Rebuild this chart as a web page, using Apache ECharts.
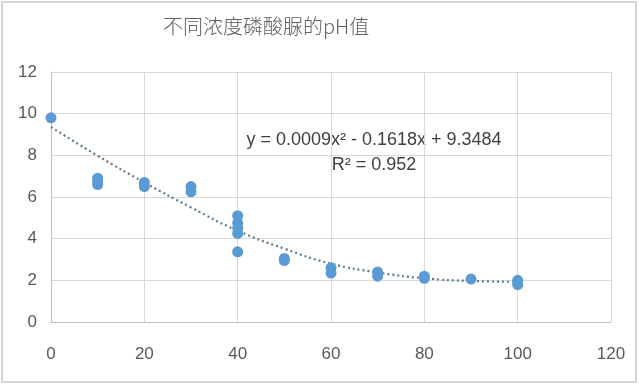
<!DOCTYPE html>
<html>
<head>
<meta charset="utf-8">
<script src="https://cdn.jsdelivr.net/npm/echarts@6/dist/echarts.min.js"></script>
<style>html,body{margin:0;padding:0;background:#fff}#c{width:640px;height:385px}</style>
</head>
<body>
<div id="c"></div>
<script>
var titleText = '不同浓度磷酸脲的pH值';
var concentration = [0, 10, 10, 10, 20, 20, 30, 30, 40, 40, 40, 40, 40, 50, 50, 60, 60, 70, 70, 80, 80, 90, 100, 100];
var phValues      = [9.8, 6.9, 6.75, 6.6, 6.7, 6.5, 6.5, 6.25, 5.1, 4.75, 4.5, 4.25, 3.37, 2.95, 3.05, 2.35, 2.6, 2.2, 2.4, 2.1, 2.2, 2.06, 1.8, 2.0];
var trendX = [0, 10, 20, 30, 40, 50, 60, 70, 80, 90, 100];
var trendY = [9.36, 7.98, 6.7, 5.5, 4.38, 3.52, 2.8, 2.38, 2.1, 1.97, 1.93];
var equationText = 'y = 0.0009x² - 0.1618x + 9.3484';
var r2Text = 'R² = 0.952';

var chart = echarts.init(document.getElementById('c'));
var pts = concentration.map(function (x, i) { return [x, phValues[i]]; });
var trend = trendX.map(function (x, i) { return [x, trendY[i]]; });
var lab = { color: '#595959', fontSize: 17, fontFamily: 'Liberation Sans' };
chart.setOption({
  animation: false,
  title: {
    text: titleText, left: 158, top: 11,
    textStyle: { color: '#606060', fontSize: 20, fontWeight: 300, fontFamily: 'Noto Sans CJK SC' }
  },
  grid: { left: 51, top: 72, width: 560, height: 250 },
  xAxis: {
    type: 'value', min: 0, max: 120, interval: 20,
    axisLine: { lineStyle: { color: '#bfbfbf', width: 1 } },
    axisTick: { show: false },
    splitLine: { show: true, lineStyle: { color: '#d9d9d9' } },
    axisLabel: Object.assign({ margin: 24 }, lab)
  },
  yAxis: {
    type: 'value', min: 0, max: 12, interval: 2,
    axisLine: { show: true, lineStyle: { color: '#bfbfbf', width: 1 } },
    axisTick: { show: false },
    splitLine: { show: true, lineStyle: { color: '#d9d9d9' } },
    axisLabel: Object.assign({ margin: 14 }, lab)
  },
  series: [
    {
      type: 'line', data: trend, smooth: true, symbol: 'none', z: 1,
      lineStyle: { color: '#5f7a8c', width: 2.2, type: [2, 3] }
    },
    {
      type: 'scatter', data: pts, symbolSize: 11, z: 3,
      itemStyle: { color: '#5b9bd5', opacity: 1 }
    }
  ],
  graphic: [
    { type: 'rect', shape: { x: 2, y: 2, width: 634, height: 380 }, style: { fill: 'none', stroke: '#d6d6d6', lineWidth: 2 }, silent: true },
    { type: 'text', x: 374, y: 140, style: { text: equationText, fill: '#404040', font: '18px "Liberation Sans"', textAlign: 'center', textVerticalAlign: 'middle' } },
    { type: 'text', x: 374, y: 165, style: { text: r2Text, fill: '#404040', font: '18px "Liberation Sans"', textAlign: 'center', textVerticalAlign: 'middle' } }
  ]
});
</script>
</body>
</html>
